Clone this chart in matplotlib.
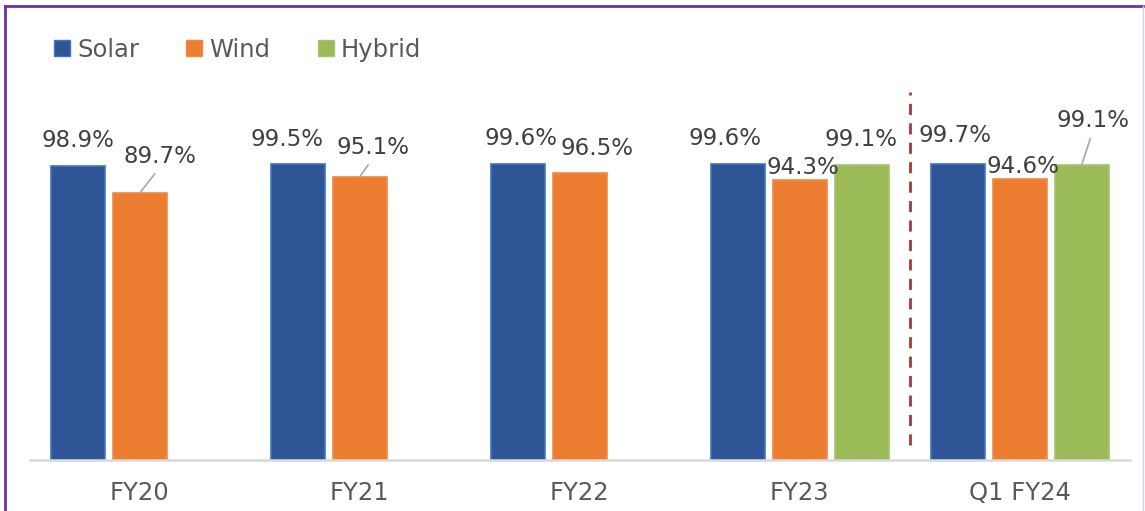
import numpy as np
import matplotlib
matplotlib.use('Agg')
import matplotlib.pyplot as plt
from matplotlib.lines import Line2D
from matplotlib.patches import Patch

# data
categories = ['FY20', 'FY21', 'FY22', 'FY23', 'Q1 FY24']
series = ['Solar', 'Wind', 'Hybrid']
solar = [0.989, 0.995, 0.996, 0.996, 0.997]
wind = [0.897, 0.951, 0.965, 0.943, 0.946]
hybrid = [np.nan, np.nan, np.nan, 0.991, 0.991]

colors = ['#2F5597', '#ED7D31', '#9BBB59']
edges = ['#3A78C0', '#F08A45', '#A6C46A']

# label offsets (px) from bar top, and whether a leader line is drawn
offsets = {
    'Solar': [(0, 25), (-10, 25), (3, 25), (-13, 25), (-2, 28)],
    'Wind': [(20, 37), (13, 30), (18, 25), (3, 12), (3, 12)],
    'Hybrid': [None, None, None, (-1, 26), (11, 45)],
}
leaders = {
    'Solar': [False] * 5,
    'Wind': [True, True, False, False, False],
    'Hybrid': [False, False, False, False, True],
}

plt.rcParams['font.family'] = ['DejaVu Sans']

fig = plt.figure(figsize=(11.45, 5.11), dpi=100)
ax = fig.add_axes([29.5 / 1145, 51 / 511, 1100 / 1145, 356.8 / 511])

x = np.arange(len(categories))
w = 54 / 220
step = 62 / 220
values = [solar, wind, hybrid]
for i, name in enumerate(series):
    vals = values[i]
    xs = x + (i - 1) * step
    ax.bar(xs, vals, width=w, color=colors[i], edgecolor=edges[i], linewidth=1.2, zorder=2)
    for j, v in enumerate(vals):
        if np.isnan(v):
            continue
        dx, dy = offsets[name][j]
        if leaders[name][j]:
            ax.annotate(f'{v*100:.1f}%', xy=(xs[j], v), xytext=(dx, dy),
                        textcoords='offset pixels', ha='center', va='center',
                        fontsize=16.5, color='#404040',
                        arrowprops=dict(arrowstyle='-', color='#A6A6A6', lw=1.2,
                                        relpos=(0.5, 0), shrinkA=3, shrinkB=1))
        else:
            ax.annotate(f'{v*100:.1f}%', xy=(xs[j], v), xytext=(dx, dy),
                        textcoords='offset pixels', ha='center', va='center',
                        fontsize=16.5, color='#404040')

ax.set_xlim(-0.5, 4.5)
ax.set_ylim(0, 1.2)
ax.set_yticks([])
for s in ['top', 'right', 'left']:
    ax.spines[s].set_visible(False)
ax.spines['bottom'].set_color('#D9D9D9')
ax.spines['bottom'].set_linewidth(1.8)
ax.set_xticks(x)
ax.set_xticklabels(categories, fontsize=17.5, color='#595959')
ax.tick_params(axis='x', length=0, pad=15)

# dashed separator before the quarter
ax.plot([3.5, 3.5], [0.05, 1.238], ls=(0, (4, 3)), color='#A33A3A', lw=2, clip_on=False, zorder=3)

handles = [Patch(facecolor=colors[i], edgecolor=edges[i], label=series[i]) for i in range(3)]
fig.legend(handles=handles, loc='upper left', bbox_to_anchor=(32 / 1145, 1 - 16 / 511),
           ncol=3, frameon=False, fontsize=17.5, handlelength=0.65, handleheight=0.65,
           handletextpad=0.3, columnspacing=1.95, labelcolor='#595959')

# frame around figure
fig.add_artist(Line2D([4.5 / 1145, 4.5 / 1145], [0, 1 - 6 / 511], color='#7030A0', lw=2))
fig.add_artist(Line2D([4.5 / 1145, 1143 / 1145], [1 - 6 / 511, 1 - 6 / 511], color='#7030A0', lw=2))
fig.add_artist(Line2D([1143 / 1145, 1143 / 1145], [0, 1 - 6 / 511], color='#D8CCE6', lw=1))

fig.savefig('out.png', dpi=100)
